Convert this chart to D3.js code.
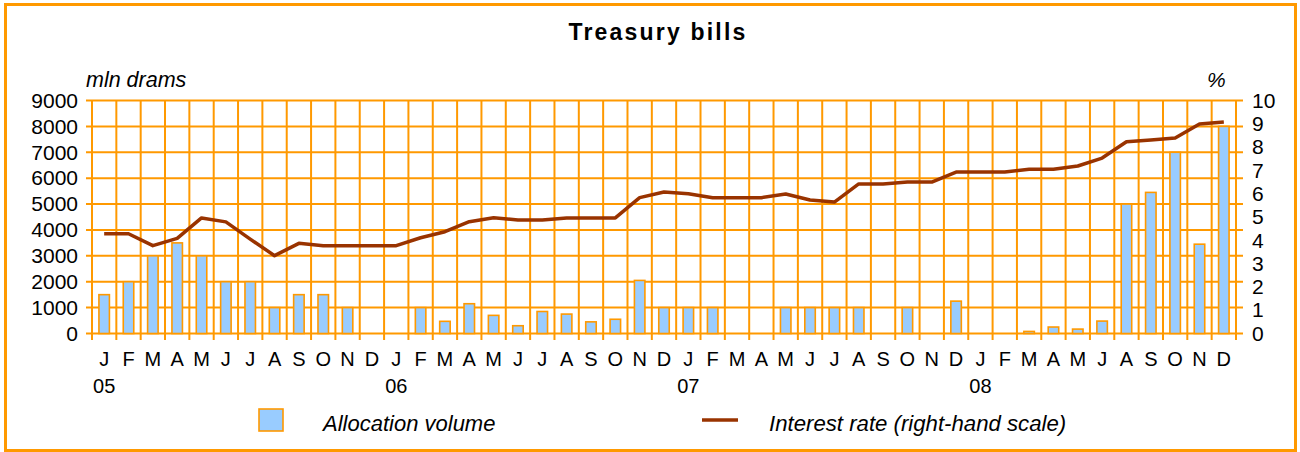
<!DOCTYPE html>
<html><head><meta charset="utf-8">
<script src="https://cdn.jsdelivr.net/npm/d3@7"></script>
<style>body{margin:0;background:#fff}svg{display:block}text{font-family:"Liberation Sans",Arial,sans-serif;fill:#000}</style>
</head><body><svg id="c" width="1300" height="452"></svg>
<script>
const months = ["J","F","M","A","M","J","J","A","S","O","N","D",
                "J","F","M","A","M","J","J","A","S","O","N","D",
                "J","F","M","A","M","J","J","A","S","O","N","D",
                "J","F","M","A","M","J","A","S","O","N","D"];
const yearLabels = [{i:0,t:"05"},{i:12,t:"06"},{i:24,t:"07"},{i:36,t:"08"}];
const volume = [1500,2000,3000,3500,3000,2000,2000,1000,1500,1500,1000,0,
                0,1000,470,1150,700,300,850,750,450,550,2050,1000,
                1000,1000,0,0,1000,1000,1000,1000,0,1000,0,1250,
                0,0,80,250,170,480,5000,5450,7000,3450,8000];
const rate = [4.28,4.28,3.77,4.08,4.96,4.79,4.05,3.34,3.87,3.77,3.77,3.77,
              3.77,4.11,4.37,4.80,4.97,4.87,4.87,4.96,4.96,4.96,5.83,6.07,
              6.00,5.83,5.83,5.83,5.99,5.73,5.64,6.42,6.42,6.50,6.50,6.93,
              6.93,6.93,7.05,7.05,7.19,7.53,8.23,8.30,8.39,8.99,9.08];
const leftTicks = [0,1000,2000,3000,4000,5000,6000,7000,8000,9000];
const rightTicks = [0,1,2,3,4,5,6,7,8,9,10];

const ORANGE = "#FF9900", BAR = "#99CCFF", LINE = "#993300";
const svg = d3.select("#c");
const idx = d3.range(months.length);
const x = d3.scaleBand().domain(idx).range([92, 1236]).padding(0);
const yL = d3.scaleLinear().domain([0, 9000]).range([333.5, 100.5]);
const yR = d3.scaleLinear().domain([0, 10]).range([333.5, 100.5]);

// frame
svg.append("rect").attr("x",5.5).attr("y",4.5).attr("width",1290).attr("height",446)
  .attr("fill","none").attr("stroke",ORANGE).attr("stroke-width",3);

// title
svg.append("text").attr("x",658).attr("y",40).attr("text-anchor","middle")
  .style("font-size","23px").style("font-weight","bold").style("letter-spacing","2.2px")
  .text("Treasury bills");

// horizontal gridlines (left scale)
svg.append("g").selectAll("line").data(leftTicks).join("line")
  .attr("x1",86).attr("x2",1243).attr("y1",d=>yL(d)).attr("y2",d=>yL(d))
  .attr("stroke",ORANGE).attr("stroke-width",2);
// vertical gridlines at band boundaries
const bounds = idx.map(i=>x(i)).concat([x.range()[1]]);
svg.append("g").selectAll("line").data(bounds).join("line")
  .attr("x1",d=>d).attr("x2",d=>d).attr("y1",yL(9000)).attr("y2",340)
  .attr("stroke",ORANGE).attr("stroke-width",2);

// axes labels
const gL = svg.append("g").attr("transform","translate(78,0)")
  .call(d3.axisLeft(yL).tickValues(leftTicks).tickSize(0).tickPadding(0).tickFormat(d3.format("d")));
gL.select(".domain").remove();
gL.selectAll("text").style("font-size","21px").style("font-family","Liberation Sans, Arial, sans-serif").attr("fill","#000");
const gR = svg.append("g").attr("transform","translate(1252,0)")
  .call(d3.axisRight(yR).tickValues(rightTicks).tickSize(0).tickPadding(0).tickFormat(d3.format("d")));
gR.select(".domain").remove();
gR.selectAll("text").style("font-size","21px").style("font-family","Liberation Sans, Arial, sans-serif").attr("fill","#000");

// unit labels
svg.append("text").attr("x",86).attr("y",87).style("font-size","21.5px").style("font-style","italic").text("mln drams");
svg.append("text").attr("x",1207).attr("y",87).style("font-size","21px").style("font-style","italic").text("%");

// bars
const bw = 10.5;
svg.append("g").selectAll("rect").data(volume.map((v,i)=>({v,i})).filter(d=>d.v>0)).join("rect")
  .attr("x",d=>x(d.i)+x.bandwidth()/2-bw/2).attr("width",bw)
  .attr("y",d=>yL(d.v)).attr("height",d=>yL(0)-yL(d.v))
  .attr("fill",BAR).attr("stroke",ORANGE).attr("stroke-width",1.6);

// line
svg.append("path").datum(rate)
  .attr("d",d3.line().x((d,i)=>x(i)+x.bandwidth()/2).y(d=>yR(d)))
  .attr("fill","none").attr("stroke",LINE).attr("stroke-width",3.5).attr("stroke-linejoin","round");

// month labels
svg.append("g").selectAll("text").data(months).join("text")
  .attr("x",(d,i)=>x(i)+x.bandwidth()/2).attr("y",366).attr("text-anchor","middle")
  .style("font-size","20px").text(d=>d);
svg.append("g").selectAll("text").data(yearLabels).join("text")
  .attr("x",d=>x(d.i)+x.bandwidth()/2).attr("y",393).attr("text-anchor","middle")
  .style("font-size","20px").text(d=>d.t);

// legend
svg.append("rect").attr("x",259).attr("y",409).attr("width",24).attr("height",22)
  .attr("fill",BAR).attr("stroke",ORANGE).attr("stroke-width",1.6);
svg.append("text").attr("x",323).attr("y",431).style("font-size","22px").style("font-style","italic").text("Allocation volume");
svg.append("line").attr("x1",702).attr("x2",738).attr("y1",420).attr("y2",420)
  .attr("stroke",LINE).attr("stroke-width",3.5);
svg.append("text").attr("x",769).attr("y",431).style("font-size","22.2px").style("font-style","italic").text("Interest rate (right-hand scale)");
</script></body></html>
